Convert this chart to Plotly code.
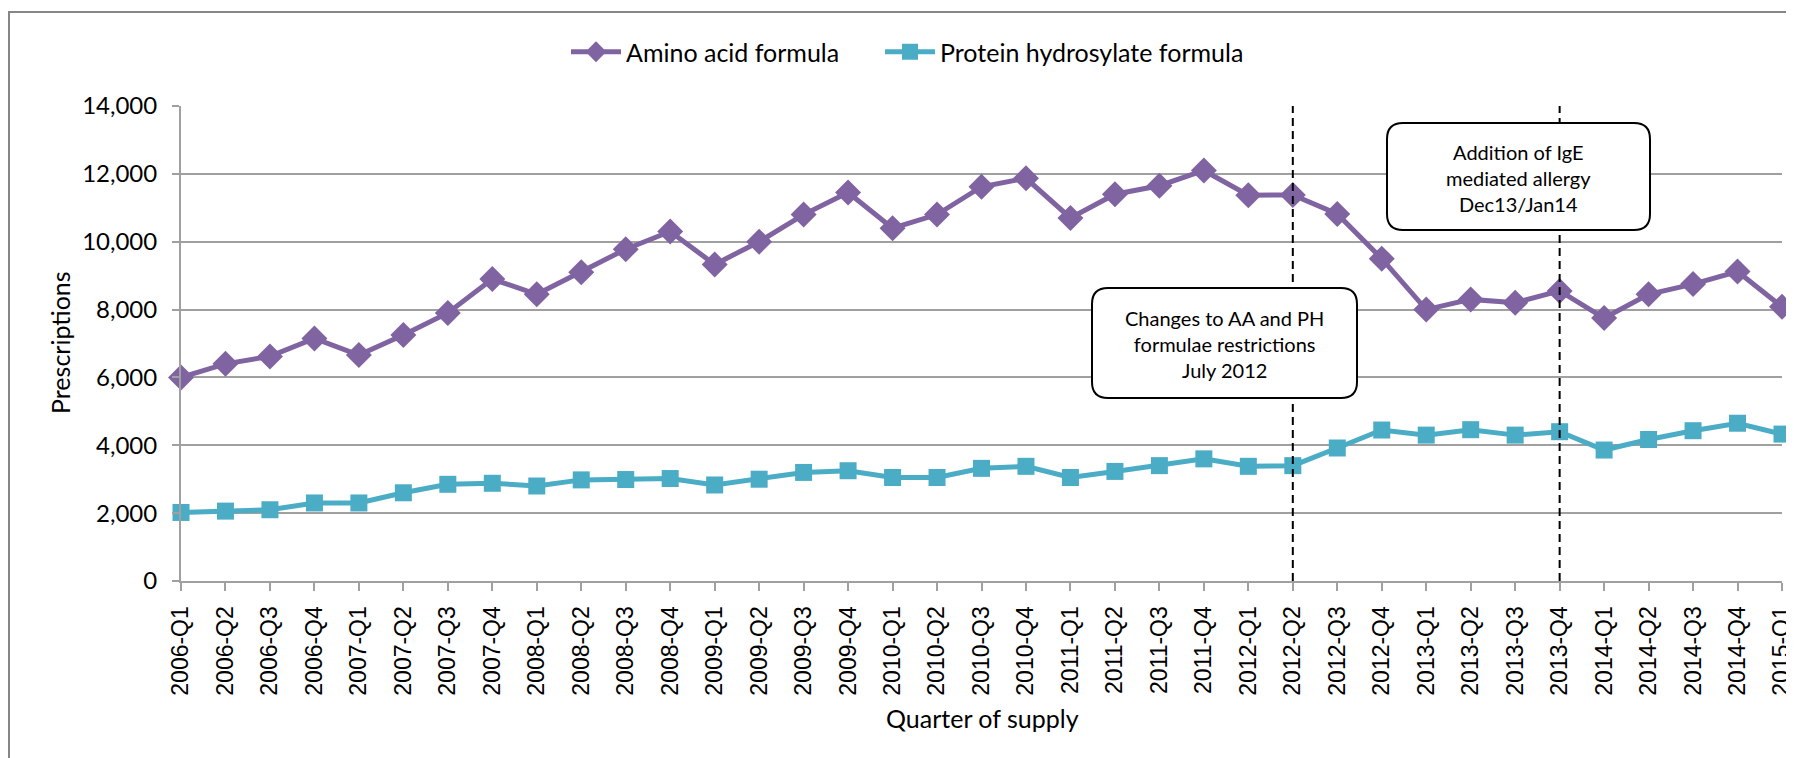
import plotly.graph_objects as go

quarters = [
    "2006-Q1", "2006-Q2", "2006-Q3", "2006-Q4",
    "2007-Q1", "2007-Q2", "2007-Q3", "2007-Q4",
    "2008-Q1", "2008-Q2", "2008-Q3", "2008-Q4",
    "2009-Q1", "2009-Q2", "2009-Q3", "2009-Q4",
    "2010-Q1", "2010-Q2", "2010-Q3", "2010-Q4",
    "2011-Q1", "2011-Q2", "2011-Q3", "2011-Q4",
    "2012-Q1", "2012-Q2", "2012-Q3", "2012-Q4",
    "2013-Q1", "2013-Q2", "2013-Q3", "2013-Q4",
    "2014-Q1", "2014-Q2", "2014-Q3", "2014-Q4",
    "2015-Q1",
]

amino_acid = [
    6000, 6400, 6620, 7150,
    6660, 7250, 7900, 8900,
    8450, 9100, 9780, 10300,
    9330, 10000, 10800, 11450,
    10400, 10800, 11620, 11870,
    10700, 11400, 11650, 12100,
    11370, 11380, 10820, 9500,
    8000, 8300, 8200, 8550,
    7750, 8450, 8750, 9120,
    8080,
]

protein_hydrosylate = [
    2020, 2060, 2100, 2300,
    2300, 2600, 2850, 2880,
    2800, 2980, 2990, 3020,
    2830, 3000, 3200, 3250,
    3050, 3050, 3320, 3380,
    3050, 3230, 3400, 3600,
    3380, 3400, 3920, 4450,
    4300, 4460, 4300, 4400,
    3860, 4170, 4430, 4650,
    4330,
]

y_ticks = [0, 2000, 4000, 6000, 8000, 10000, 12000, 14000]

event_quarters = ["2012-Q2", "2013-Q4"]
event_texts = [
    "Changes to AA and PH<br>formulae restrictions<br>July 2012",
    "Addition of IgE<br>mediated allergy<br>Dec13/Jan14",
]

PURPLE = "#8064A2"
AQUA = "#4BACC6"
GRID = "#A0A0A0"
FONT = "Lato"

# layout geometry (viewport pixels; the page body adds an 8px offset)
OFF = 8
W, H = 1794 - OFF, 758 - OFF
PLOT_L, PLOT_R, PLOT_T, PLOT_B = 181, 1782, 106, 581
PW = PLOT_R - PLOT_L
PH = PLOT_B - PLOT_T
ML = PLOT_L - OFF
MT = PLOT_T - OFF
MR = W - ML - PW
MB = H - MT - PH
xpos = list(range(len(quarters)))
XMAX = len(quarters) - 1
YMAX = 14000


def px_to_x(px):
    return (px - PLOT_L) / PW * XMAX


def px_to_y(py):
    return (PLOT_B - py) / PH * YMAX


def px_to_paper_x(px):
    return (px - PLOT_L) / PW


def px_to_paper_y(py):
    return (PLOT_B - py) / PH


fig = go.Figure()
fig.add_trace(go.Scatter(
    x=xpos, y=amino_acid, name="Amino acid formula", mode="lines+markers",
    line=dict(color=PURPLE, width=5),
    marker=dict(symbol="diamond", size=20, color=PURPLE),
    cliponaxis=False, legend="legend",
))
fig.add_trace(go.Scatter(
    x=xpos, y=protein_hydrosylate, name="Protein hydrosylate formula", mode="lines+markers",
    line=dict(color=AQUA, width=5),
    marker=dict(symbol="square", size=17, color=AQUA),
    cliponaxis=False, legend="legend2",
))

shapes = []
# outer chart border
shapes.append(dict(
    type="rect", xref="paper", yref="paper",
    x0=px_to_paper_x(9), x1=px_to_paper_x(1810),
    y0=px_to_paper_y(780), y1=px_to_paper_y(12),
    line=dict(color="#868686", width=2), fillcolor="rgba(0,0,0,0)", layer="below",
))

# dashed event lines
ev_idx = [quarters.index(q) for q in event_quarters]
ev_top = [YMAX, px_to_y(102)]
for i, top in zip(ev_idx, ev_top):
    shapes.append(dict(
        type="line", xref="x", yref="y", x0=i, x1=i, y0=0, y1=top,
        line=dict(color="black", width=2, dash="8px,5px"), layer="above",
    ))


def rounded_box(px0, px1, py0, py1, r):
    x0, x1 = px_to_x(px0), px_to_x(px1)
    ytop, ybot = px_to_y(py0), px_to_y(py1)
    rx = r / PW * XMAX
    ry = r / PH * YMAX
    return (
        f"M {x0 + rx},{ytop} L {x1 - rx},{ytop} Q {x1},{ytop} {x1},{ytop - ry} "
        f"L {x1},{ybot + ry} Q {x1},{ybot} {x1 - rx},{ybot} "
        f"L {x0 + rx},{ybot} Q {x0},{ybot} {x0},{ybot + ry} "
        f"L {x0},{ytop - ry} Q {x0},{ytop} {x0 + rx},{ytop} Z"
    )


boxes_px = [(1092, 1357, 288, 398), (1387, 1650, 123, 230)]
annotations = []
for (bx0, bx1, by0, by1), txt in zip(boxes_px, event_texts):
    shapes.append(dict(
        type="path", xref="x", yref="y", path=rounded_box(bx0, bx1, by0, by1, 16),
        line=dict(color="black", width=2), fillcolor="white", layer="above",
    ))
    annotations.append(dict(
        x=px_to_x((bx0 + bx1) / 2), y=px_to_y((by0 + by1) / 2 + 1), xref="x", yref="y",
        text=txt, showarrow=False, align="center",
        font=dict(family=FONT, size=20, color="black"),
    ))

# axis titles
annotations.append(dict(
    text="Prescriptions", xref="paper", yref="paper",
    x=px_to_paper_x(60), y=px_to_paper_y(342), textangle=-90,
    showarrow=False, font=dict(family=FONT, size=25, color="black"),
    xanchor="center", yanchor="middle",
))
annotations.append(dict(
    text="Quarter of supply", xref="paper", yref="paper",
    x=px_to_paper_x(982), y=px_to_paper_y(718),
    showarrow=False, font=dict(family=FONT, size=25, color="black"),
    xanchor="center", yanchor="middle",
))

legend_common = dict(
    orientation="h", xanchor="left", yanchor="middle",
    font=dict(family=FONT, size=25, color="black"),
    bgcolor="rgba(0,0,0,0)", itemwidth=50,
)

fig.update_layout(
    width=W, height=H,
    margin=dict(l=ML, r=MR, t=MT, b=MB, autoexpand=False),
    paper_bgcolor="white", plot_bgcolor="white",
    shapes=shapes, annotations=annotations,
    showlegend=True,
    legend=dict(x=px_to_paper_x(566), y=px_to_paper_y(52), **legend_common),
    legend2=dict(x=px_to_paper_x(880), y=px_to_paper_y(52), **legend_common),
    xaxis=dict(
        range=[0, XMAX], tickmode="array", tickvals=xpos, ticktext=quarters,
        tickangle=-90, showgrid=False, zeroline=False, automargin=False,
        showline=True, linecolor=GRID, linewidth=2,
        ticks="outside", ticklen=8, tickcolor=GRID, tickwidth=2,
        tickfont=dict(family="Liberation Sans, Arial", size=23, color="black"),
        ticklabelstandoff=6, ticklabeloverflow="allow",
    ),
    yaxis=dict(
        range=[0, YMAX], tickmode="array", tickvals=y_ticks,
        ticktext=[f"{v:,}" for v in y_ticks],
        showgrid=True, gridcolor=GRID, gridwidth=2, zeroline=False, automargin=False,
        showline=True, linecolor=GRID, linewidth=2,
        ticks="outside", ticklen=7, tickcolor=GRID, tickwidth=2,
        tickfont=dict(family=FONT, size=24, color="black"),
        ticklabelstandoff=10,
    ),
)

fig.write_html("out.html")
